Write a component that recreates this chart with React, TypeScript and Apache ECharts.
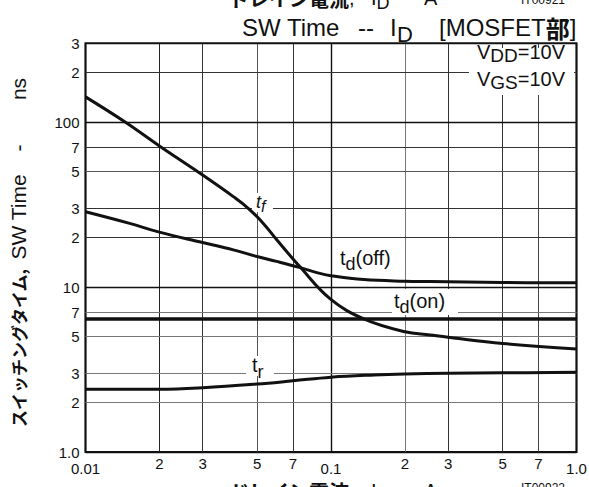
import React, { useEffect, useRef } from "react";
import * as echarts from "echarts";

const LAT = "'Liberation Sans', Arial, sans-serif";
const CJK = "'Noto Sans CJK JP', sans-serif";

// Tick values / labels
const X_TICK_VALUES = [0.01, 0.02, 0.03, 0.05, 0.07, 0.1, 0.2, 0.3, 0.5, 0.7, 1.0];
const X_TICK_LABELS = ["0.01", "2", "3", "5", "7", "0.1", "2", "3", "5", "7", "1.0"];
const Y_TICK_VALUES = [1, 2, 3, 5, 7, 10, 20, 30, 50, 70, 100, 200, 300];
const Y_TICK_LABELS = ["1.0", "2", "3", "5", "7", "10", "2", "3", "5", "7", "100", "2", "3"];

// Series (drain current in A, switching time in ns)
const TF_X = [0.01, 0.0145, 0.02, 0.03, 0.04, 0.046, 0.053, 0.06, 0.0749, 0.099, 0.136, 0.2, 0.253, 0.3, 0.5, 1.0];
const TF_Y = [142, 100, 71.6, 47.7, 35.3, 30, 24.3, 19.4, 13.2, 8.5, 6.4, 5.35, 5.12, 4.96, 4.55, 4.21];
const TDOFF_X = [0.01, 0.015, 0.02, 0.03, 0.04, 0.05, 0.06, 0.075, 0.09, 0.1, 0.136, 0.2, 0.253, 0.5, 1.0];
const TDOFF_Y = [28.6, 24.4, 21.5, 18.6, 16.8, 15.3, 14.3, 13.1, 12.1, 11.7, 11.1, 10.85, 10.8, 10.65, 10.6];
const TDON_X = [0.01, 0.1, 1.0];
const TDON_Y = [6.4, 6.4, 6.4];
const TR_X = [0.01, 0.02, 0.03, 0.05, 0.07, 0.1, 0.15, 0.2, 0.3, 0.5, 1.0];
const TR_Y = [2.4, 2.4, 2.45, 2.58, 2.7, 2.84, 2.93, 2.97, 3.0, 3.02, 3.04];

const zip = (xs: number[], ys: number[]) => xs.map((x, i) => [x, ys[i]]);

type Piece = { t: string; size: number; fam?: string; weight?: string; italic?: boolean; dy?: number; ax?: number };

function seq(pieces: Piece[], x0: number, base: number, z = 30): any[] {
  const ctx = document.createElement("canvas").getContext("2d")!;
  let x = x0;
  const out: any[] = [];
  for (const p of pieces) {
    const fam = p.fam || LAT;
    const weight = p.weight || "normal";
    const fstyle = p.italic ? "italic" : "normal";
    ctx.font = `${fstyle} ${weight} ${p.size}px ${fam}`;
    const w = ctx.measureText(p.t).width;
    if (p.ax !== undefined) x = p.ax;
    out.push({
      type: "text",
      x,
      y: base + (p.dy || 0) - 0.35 * p.size,
      z,
      silent: true,
      style: {
        text: p.t,
        fontSize: p.size,
        fontFamily: fam,
        fontWeight: weight,
        fontStyle: fstyle,
        fill: "#111",
        align: "left",
        verticalAlign: "middle",
      },
    });
    x += w;
  }
  return out;
}

function whiteRect(x: number, y: number, w: number, h: number) {
  return { type: "rect", z: 5, silent: true, shape: { x, y, width: w, height: h }, style: { fill: "#fff" } };
}

function vtext(t: string, cy: number, size: number, fam: string, weight = "normal") {
  return {
    type: "text",
    x: 18,
    y: cy,
    rotation: Math.PI / 2,
    z: 30,
    silent: true,
    style: { text: t, fontSize: size, fontFamily: fam, fontWeight: weight, fill: "#111", align: "center", verticalAlign: "middle" },
  };
}

const X_COLORS = ["#111", "#222", "#333", "#555", "#333", "#111", "#777", "#333", "#333", "#444", "#111"];
const Y_COLORS = ["#111", "#777", "#777", "#777", "#777", "#111", "#333", "#333", "#555", "#333", "#111", "#333", "#111"];

export default function App() {
  const ref = useRef<HTMLDivElement>(null);
  useEffect(() => {
    if (!ref.current) return;
    const chart = echarts.init(ref.current, undefined, { renderer: "svg" });

    const xLines = X_TICK_VALUES.map((v, i) => {
      const decade = Math.abs(Math.log10(v) - Math.round(Math.log10(v))) < 1e-6;
      return {
        xAxis: v,
        lineStyle: { color: X_COLORS[i], width: decade ? 1.4 : 1, type: "solid" },
        label: {
          show: true,
          position: "start",
          formatter: X_TICK_LABELS[i],
          distance: decade ? 9 : 4,
          fontSize: 15,
          fontFamily: LAT,
          color: "#111",
        },
      };
    });
    const yLines = Y_TICK_VALUES.map((v, i) => {
      const decade = Math.abs(Math.log10(v) - Math.round(Math.log10(v))) < 1e-6;
      return {
        yAxis: v,
        lineStyle: { color: Y_COLORS[i], width: decade ? 1.4 : 1, type: "solid" },
        label: {
          show: true,
          position: "start",
          formatter: Y_TICK_LABELS[i],
          distance: 6,
          fontSize: 15,
          fontFamily: LAT,
          color: "#111",
        },
      };
    });

    const curve = (name: string, data: number[][], width: number) => ({
      name,
      type: "line",
      data,
      z: 10,
      showSymbol: false,
      symbol: "none",
      smooth: 0.4,
      lineStyle: { color: "#111", width },
      silent: true,
    });

    const caption = (base: number) =>
      seq(
        [
          { t: "ドレイン電流", size: 20, fam: CJK, weight: "bold" },
          { t: ",", size: 20 },
          { t: "I", size: 20, ax: 371 },
          { t: "D", size: 18, dy: 4 },
          { t: "-", size: 20, ax: 405 },
          { t: "A", size: 20, ax: 424 },
        ],
        229,
        base
      );

    const graphics: any[] = [
      ...caption(5),
      ...seq([{ t: "IT00921", size: 12 }], 521, 4),
      // title
      ...seq([{ t: "SW Time", size: 24 }], 242, 36),
      ...seq([{ t: "--", size: 24 }], 358, 36),
      ...seq([{ t: "I", size: 24 }], 390, 36),
      ...seq([{ t: "D", size: 22 }], 397, 42),
      ...seq(
        [
          { t: "[MOSFET", size: 24 },
          { t: "部", size: 24, fam: CJK, weight: "bold" },
          { t: "]", size: 24 },
        ],
        439,
        36
      ),
      ...caption(498),
      ...seq([{ t: "IT00922", size: 12 }], 521, 492),
      // y axis title
      vtext("スイッチングタイム,", 348, 17, CJK, "bold"),
      vtext("SW Time", 217, 21, LAT),
      vtext("-", 148, 21, LAT),
      vtext("ns", 89, 21, LAT),
      // condition box
      whiteRect(469, 48, 105, 47),
      ...seq([{ t: "V", size: 20 }, { t: "DD", size: 19, dy: 3 }, { t: "=10V", size: 20 }], 477, 59),
      ...seq([{ t: "V", size: 20 }, { t: "GS", size: 19, dy: 3 }, { t: "=10V", size: 20 }], 477, 86),
      // curve labels
      whiteRect(252, 193, 21, 19),
      ...seq([{ t: "t", size: 18, italic: true }, { t: "f", size: 16, italic: true, dy: 4 }], 256, 208),
      whiteRect(337, 245, 60, 24),
      ...seq([{ t: "t", size: 20 }, { t: "d", size: 18, dy: 5 }, { t: "(off)", size: 20 }], 340, 265),
      whiteRect(392, 289, 66, 26),
      ...seq([{ t: "t", size: 20 }, { t: "d", size: 18, dy: 5 }, { t: "(on)", size: 20 }], 394, 308),
      whiteRect(246, 356, 28, 20),
      ...seq([{ t: "t", size: 20 }, { t: "r", size: 18, dy: 6 }], 252, 372),
    ];

    chart.setOption({
      animation: false,
      backgroundColor: "#fff",
      grid: {
        left: 85.5,
        top: 43.3,
        right: 12.5,
        bottom: 35,
        show: true,
        borderColor: "#111",
        borderWidth: 2,
        backgroundColor: "transparent",
        containLabel: false,
      },
      xAxis: {
        type: "log",
        logBase: 10,
        min: 0.01,
        max: 1,
        axisLabel: { show: false },
        axisTick: { show: false },
        axisLine: { show: false },
        splitLine: { show: false },
        minorSplitLine: { show: false },
      },
      yAxis: {
        type: "log",
        logBase: 10,
        min: 1,
        max: 300,
        axisLabel: { show: false },
        axisTick: { show: false },
        axisLine: { show: false },
        splitLine: { show: false },
        minorSplitLine: { show: false },
      },
      series: [
        {
          name: "grid",
          type: "line",
          data: [],
          clip: false,
          silent: true,
          markLine: {
            silent: true,
            z: 1,
            symbol: ["none", "none"],
            animation: false,
            data: [...xLines, ...yLines],
          },
        },
        curve("tf", zip(TF_X, TF_Y), 3),
        curve("td(off)", zip(TDOFF_X, TDOFF_Y), 3),
        curve("td(on)", zip(TDON_X, TDON_Y), 3.5),
        curve("tr", zip(TR_X, TR_Y), 3),
      ],
      graphic: graphics,
    });
    return () => chart.dispose();
  }, []);

  return (
    <div
      ref={ref}
      style={{ position: "fixed", left: 0, top: 0, width: 589, height: 487, background: "#fff" }}
    />
  );
}
